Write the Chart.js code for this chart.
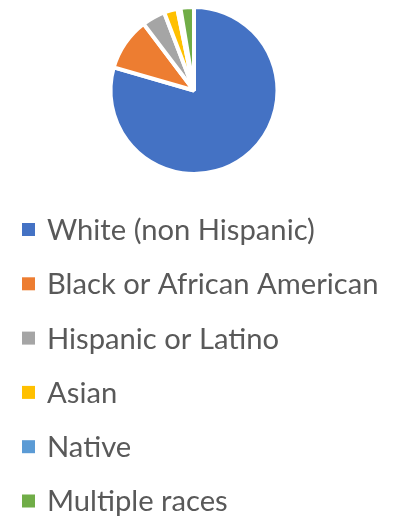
<!DOCTYPE html>
<html>
<head>
<meta charset="utf-8">
<script src="https://cdn.jsdelivr.net/npm/chart.js@4"></script>
<style>
    html, body { margin: 0; padding: 0; background: #ffffff; }
    #wrap { width: 406px; height: 517px; }
</style>
</head>
<body>
<div id="wrap"><canvas id="chart-race"></canvas></div>
<script>
const raceLabels = ["White (non Hispanic)", "Black or African American", "Hispanic or Latino", "Asian", "Native", "Multiple races"]
const racePercent = [79.4, 10.2, 4.5, 2.6, 0.6, 2.6]
const raceColors = ["#4472C4", "#ED7D31", "#A5A5A5", "#FFC000", "#5B9BD5", "#70AD47"]

// legend drawn one item per row, like the office chart
const rowLegend = {
    id: "rowLegend",
    afterDraw(chart) {
        const ctx = chart.ctx
        const labels = chart.data.labels
        const colors = chart.data.datasets[0].backgroundColor
        ctx.save()
        ctx.font = "29.2px Lato"
        ctx.textBaseline = "middle"
        labels.forEach((label, i) => {
            const y = 229.5 + i * 54.3
            ctx.fillStyle = colors[i]
            ctx.fillRect(22, y - 6.5, 13, 13)
            ctx.fillStyle = "#595959"
            ctx.fillText(label, 47, y + 1)
        })
        ctx.restore()
    }
}

new Chart(document.getElementById("chart-race"), {
    type: "pie",
    data: {
        labels: raceLabels,
        datasets: [{
            data: racePercent,
            backgroundColor: raceColors,
            borderColor: "#ffffff",
            borderWidth: 4
        }]
    },
    options: {
        responsive: true,
        maintainAspectRatio: false,
        animation: false,
        layout: {
            padding: { top: 5, bottom: 341, left: 0, right: 18 }
        },
        plugins: {
            legend: { display: false },
            tooltip: { enabled: false }
        }
    },
    plugins: [rowLegend]
})
</script>
</body>
</html>
